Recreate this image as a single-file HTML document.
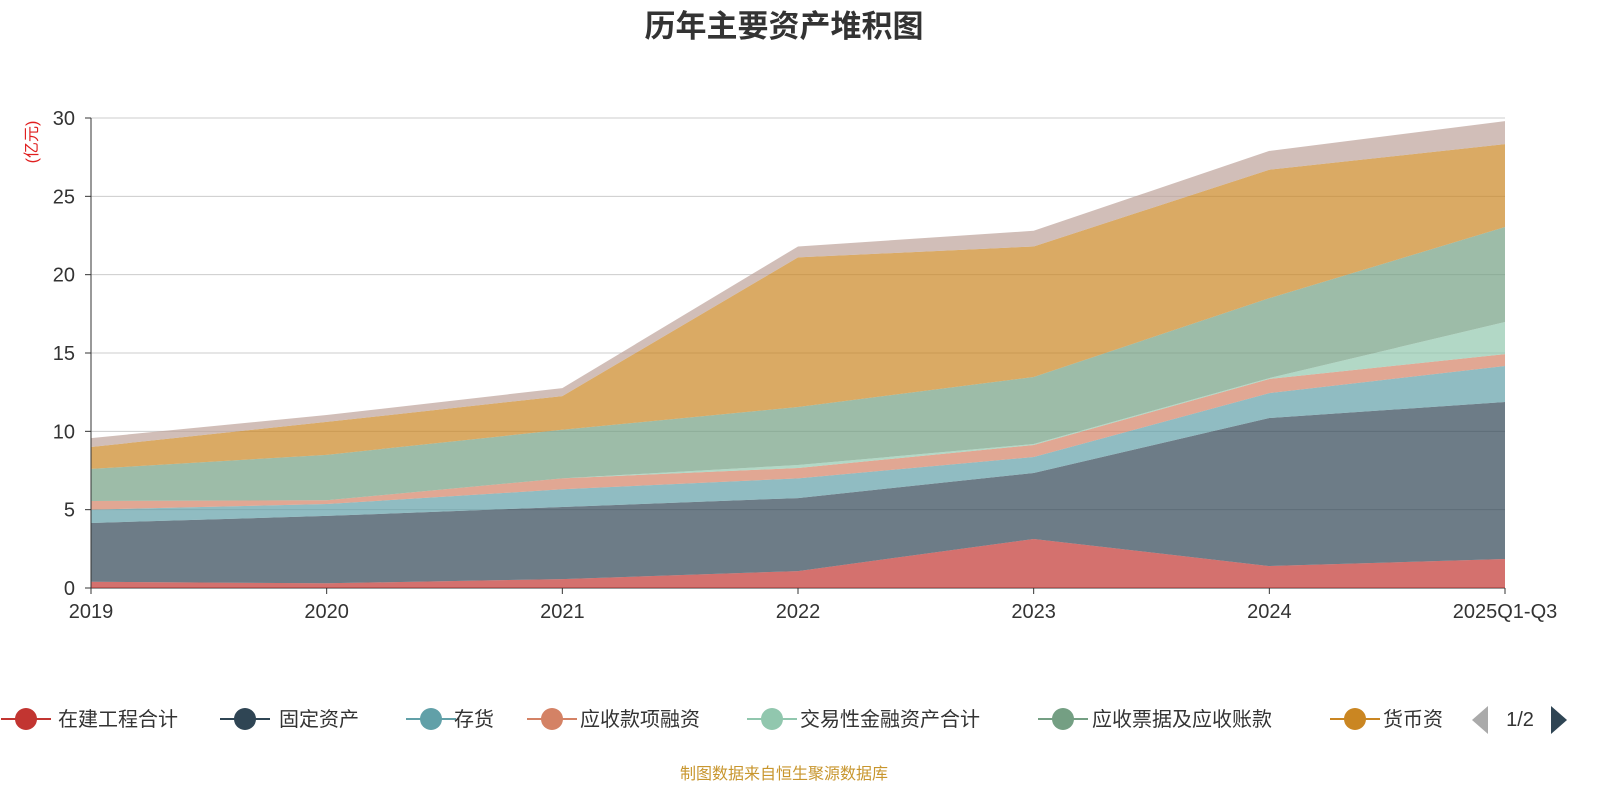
<!DOCTYPE html>
<html><head><meta charset="utf-8"><style>
body{margin:0;background:#fff;}
svg text{font-family:"Liberation Sans","Noto Sans CJK SC",sans-serif;}
</style></head><body>
<svg id="c" width="1600" height="800">
<text x="784" y="37" text-anchor="middle" font-size="31" font-weight="bold" fill="#333">历年主要资产堆积图</text>
<text transform="translate(37,142) rotate(-90)" text-anchor="middle" font-size="16" fill="#e02020">(亿元)</text>
<g id="grid"></g><g id="areas"></g><g id="axes"></g><g id="legend"></g>
<text x="784" y="779" text-anchor="middle" font-size="16" fill="#c8962e">制图数据来自恒生聚源数据库</text>
</svg>
<script>
const categories=["2019","2020","2021","2022","2023","2024","2025Q1-Q3"];
const seriesNames=["在建工程合计","固定资产","存货","应收款项融资","交易性金融资产合计","应收票据及应收账款","货币资金","其他"];
const sZaijian=[0.4,0.3,0.57,1.08,3.13,1.4,1.85];
const sGuding=[3.75,4.3,4.6,4.66,4.21,9.45,10.02];
const sCunhuo=[0.85,0.76,1.13,1.26,1.02,1.59,2.3];
const sRongzi=[0.55,0.24,0.7,0.66,0.77,0.9,0.76];
const sJiaoyi=[0,0,0,0.19,0.06,0.06,2.05];
const sPiaoju=[2.05,2.9,3.1,3.7,4.28,5.1,6.06];
const sHuobi=[1.4,2.1,2.15,9.55,8.33,8.2,5.29];
const sQita=[0.57,0.44,0.51,0.7,1.0,1.2,1.47];
const yTicks=[0,5,10,15,20,25,30];
const series=[sZaijian,sGuding,sCunhuo,sRongzi,sJiaoyi,sPiaoju,sHuobi,sQita];
const colors=["#c23531","#2f4554","#61a0a8","#d48265","#91c7ae","#749f83","#ca8622","#bda29a"];
const NS="http://www.w3.org/2000/svg";
const X0=91,X1=1505,Y0=588,Y1=118,YMAX=30;
const xs=i=>X0+(X1-X0)*i/(categories.length-1);
const ys=v=>Y0-(Y0-Y1)*v/YMAX;
function mk(t,a,p){const e=document.createElementNS(NS,t);for(const k in a)e.setAttribute(k,a[k]);p.appendChild(e);return e;}
const grid=document.getElementById('grid'),axes=document.getElementById('axes'),areas=document.getElementById('areas'),leg=document.getElementById('legend');
yTicks.forEach(t=>{
 const l=mk('line',{x1:X0,x2:X1,y1:ys(t),y2:ys(t),stroke:t?'#ccc':'#333'},grid);
 
 
 const tx=mk('text',{x:X0-16,y:ys(t)+7,'text-anchor':'end','font-size':20,fill:'#333'},axes);tx.textContent=t;
 
 
 mk('line',{x1:X0-6,x2:X0,y1:ys(t),y2:ys(t),stroke:'#333'},axes);
});
let cum=categories.map(()=>0);
series.forEach((s,k)=>{
 const lo=cum.slice();cum=cum.map((c,i)=>c+s[i]);
 let d='M'+categories.map((_,i)=>xs(i)+','+ys(cum[i])).join('L');
 for(let i=categories.length-1;i>=0;i--)d+='L'+xs(i)+','+ys(lo[i]);
 const p=mk('path',{d:d+'Z',fill:colors[k],'fill-opacity':0.7},areas);
 
 
});
mk('line',{x1:X0,x2:X0,y1:Y1,y2:Y0,stroke:'#333'},axes);
categories.forEach((c,i)=>{
 mk('line',{x1:xs(i),x2:xs(i),y1:Y0,y2:Y0+6,stroke:'#333'},axes);
 const t=mk('text',{x:xs(i),y:Y0+30,'text-anchor':'middle','font-size':20,fill:'#333'},axes);t.textContent=c;
 
 
});
const lx=[26,245,431,552,772,1063,1355],tx=[58,279,454,580,800,1092,1383],lab=["在建工程合计","固定资产","存货","应收款项融资","交易性金融资产合计","应收票据及应收账款","货币资"];
lx.forEach((x,i)=>{
 const g=mk('g',{},leg);
 
 
 mk('line',{x1:x-25,x2:x+25,y1:719,y2:719,stroke:colors[i],'stroke-width':2},g);
 mk('circle',{cx:x,cy:719,r:11,fill:colors[i]},g);
 const t=mk('text',{x:tx[i],y:726,'font-size':20,fill:'#333'},g);t.textContent=lab[i];
});
const pl=mk('path',{d:'M1488,706L1472,720L1488,734Z',fill:'#aaa'},leg);


const pt=mk('text',{x:1520,y:726,'text-anchor':'middle','font-size':20,fill:'#333'},leg);pt.textContent='1/2';


const pr=mk('path',{d:'M1551,706L1567,720L1551,734Z',fill:'#2f4554'},leg);


</script>
</body></html>
